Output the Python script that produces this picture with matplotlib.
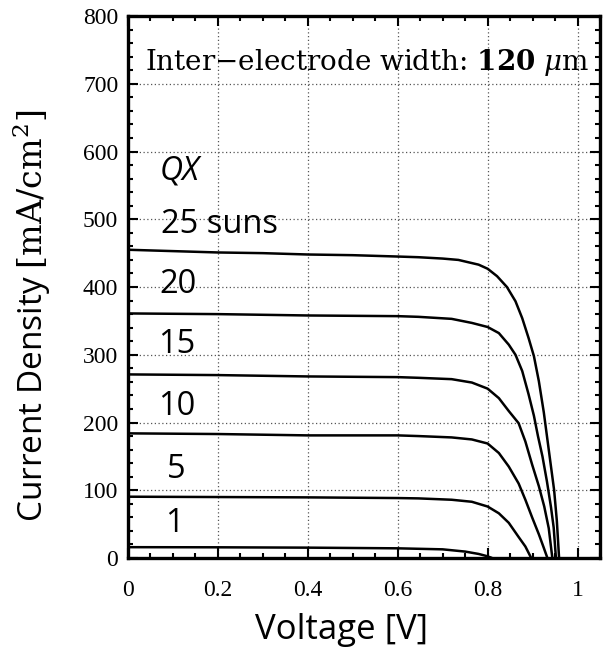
import numpy as np
import matplotlib
matplotlib.use("Agg")
import matplotlib.pyplot as plt
from matplotlib.ticker import MultipleLocator

# J-V curves (voltage in V, current density in mA/cm^2)
v_25 = [0, 0.1, 0.2, 0.3, 0.4, 0.5, 0.6, 0.646, 0.7, 0.735, 0.78, 0.8, 0.821, 0.843, 0.862, 0.877,
        0.891, 0.903, 0.914, 0.925, 0.935, 0.942, 0.948, 0.954, 0.959]
j_25 = [455, 453, 451, 450, 448, 447, 445, 444, 442, 440, 433, 427, 416, 400, 379, 354,
        325, 298, 261, 215, 165, 130, 100, 55, 0]

v_20 = [0, 0.2, 0.4, 0.6, 0.646, 0.72, 0.765, 0.8, 0.825, 0.847, 0.862, 0.877, 0.891, 0.903,
        0.912, 0.922, 0.932, 0.941, 0.947, 0.952]
j_20 = [361, 360, 358, 357, 356, 353, 347, 341, 332, 315, 300, 276, 242, 210,
        180, 150, 113, 75, 45, 0]

v_15 = [0, 0.2, 0.4, 0.6, 0.646, 0.72, 0.765, 0.8, 0.825, 0.847, 0.869, 0.884, 0.899, 0.914,
        0.926, 0.936, 0.944]
j_15 = [271, 270, 268, 267, 266, 264, 259, 250, 236, 217, 199, 172, 138, 106,
        76, 44, 0]

v_10 = [0, 0.2, 0.4, 0.6, 0.646, 0.72, 0.765, 0.8, 0.825, 0.847, 0.869, 0.884, 0.899, 0.914,
        0.925, 0.933]
j_10 = [184, 183, 181, 181, 180, 178, 175, 169, 155, 135, 110, 86, 60, 35,
        15, 0]

v_5 = [0, 0.2, 0.4, 0.6, 0.646, 0.72, 0.765, 0.8, 0.825, 0.847, 0.869, 0.884, 0.897]
j_5 = [90.5, 90, 89.5, 88.5, 88, 86, 83, 76, 66, 52, 31, 17, 0]

v_1 = [0, 0.2, 0.4, 0.6, 0.7, 0.75, 0.78, 0.8, 0.81]
j_1 = [16, 15.8, 15.3, 14.3, 12.8, 9.5, 6, 2.5, 0]

curves = [(v_1, j_1), (v_5, j_5), (v_10, j_10), (v_15, j_15), (v_20, j_20), (v_25, j_25)]

# curve labels: text, left x, baseline y (data coords)
sun_labels = ["1", "5", "10", "15", "20", "25 suns"]
label_x = [0.082, 0.087, 0.066, 0.066, 0.069, 0.073]
label_y = [38, 118, 211, 303, 391, 480]

x_ticks = [0, 0.2, 0.4, 0.6, 0.8, 1.0]
x_ticklabels = ["0", "0.2", "0.4", "0.6", "0.8", "1"]

plt.rcParams["mathtext.fontset"] = "dejavuserif"

fig = plt.figure(figsize=(6.03, 6.49), dpi=100)
ax = fig.add_axes([0.2123, 0.1402, 0.7827, 0.8351])

for v, j in curves:
    ax.plot(v, j, color="black", lw=1.8, solid_joinstyle="round", solid_capstyle="butt")

ax.set_xlim(0, 1.05)
ax.set_ylim(0, 800)
ax.xaxis.set_minor_locator(MultipleLocator(0.05))
ax.yaxis.set_major_locator(MultipleLocator(100))
ax.yaxis.set_minor_locator(MultipleLocator(20))
ax.set_xticks(x_ticks)
ax.set_xticklabels(x_ticklabels)

ax.tick_params(which="both", direction="in", top=True, right=True, width=1.5, color="black",
               labelsize=17, labelfontfamily="Liberation Serif")
ax.tick_params(which="major", length=7)
ax.tick_params(which="minor", length=3.6)
ax.tick_params(axis="x", pad=16)
ax.tick_params(axis="y", pad=7)

for s in ax.spines.values():
    s.set_linewidth(2.4)

ax.grid(True, which="major", ls=(0, (1, 2)), color="#555555", lw=0.9)

ax.set_xlabel("Voltage [V]", family="Open Sans", fontsize=25)
ax.xaxis.label.set_va("baseline")
ax.xaxis.set_label_coords(0.453, -0.149)
ax.set_ylabel(r"Current Density $[\mathrm{mA/cm^2}]$", family="Open Sans", fontsize=24)
ax.yaxis.label.set_va("center")
ax.yaxis.set_label_coords(-0.203, 0.446)

ax.text(0.533, 720, "Inter\u2212electrode width: $\\mathbf{120}$ $\\mu$m",
        family="DejaVu Serif", fontsize=20, ha="center", va="baseline")
ax.text(0.071, 558, "QX", family="Open Sans", style="italic", fontsize=23,
        ha="left", va="baseline")
for lab, x, y in zip(sun_labels, label_x, label_y):
    ax.text(x, y, lab, family="Open Sans", fontsize=23.5, ha="left", va="baseline")

fig.savefig("out.png", dpi=100)
